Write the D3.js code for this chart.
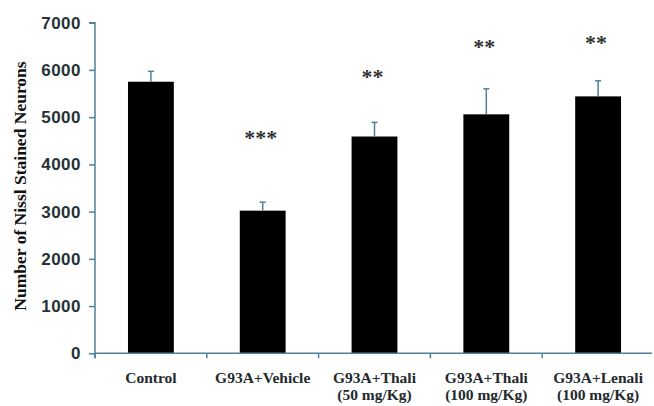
<!DOCTYPE html>
<meta charset="utf-8">
<style>
	body { margin: 0; background: #fff; }
	.ytick text { font: bold 17px "Liberation Sans", Arial, sans-serif; fill: #263236; letter-spacing: 0.5px; }
	.xlab { font: bold 15.5px "Liberation Serif", "Times New Roman", serif; fill: #1f2a2e; text-anchor: middle; }
	.ytitle { font: bold 17.5px "Liberation Serif", "Times New Roman", serif; fill: #111; text-anchor: middle; }
	.sig { font: bold 22px "Liberation Serif", serif; fill: #333; text-anchor: middle; }
</style>
<body>
<script src="https://d3js.org/d3.v7.min.js"></script>
<script>

	var groups = ["Control", "G93A+Vehicle", "G93A+Thali 50", "G93A+Thali 100", "G93A+Lenali 100"];
	var groupLines = [["Control"], ["G93A+Vehicle"], ["G93A+Thali", "(50 mg/Kg)"], ["G93A+Thali", "(100 mg/Kg)"], ["G93A+Lenali", "(100 mg/Kg)"]];
	var means = [5750, 3020, 4590, 5060, 5440];
	var sems = [220, 180, 300, 540, 330];
	var stars = ["", "***", "**", "**", "**"];
	var starLevel = [0, 4670, 5950, 6590, 6680];
	var yTicks = [0, 1000, 2000, 3000, 4000, 5000, 6000, 7000];

	var width = 654,
		height = 406,
		axisColor = "#4f8198";

	var x = d3.scaleBand()
		.domain(groups)
		.range([95, 654])
		.padding(0);

	var y = d3.scaleLinear()
		.domain([0, 7000])
		.range([353.3, 22.7]);

	var barW = x.bandwidth() * 0.41;

	var svg = d3.select("body").append("svg")
		.attr("width", width)
		.attr("height", height);

	// y axis
	var yAxis = svg.append("g")
		.attr("class", "ytick")
		.attr("transform", "translate(95,0)")
		.call(d3.axisLeft(y).tickValues(yTicks).tickFormat(d3.format("d")).tickSize(6).tickPadding(8));
	yAxis.selectAll("path, line").attr("stroke", axisColor).attr("stroke-width", 1.5);
	yAxis.select(".domain").attr("d", "M-6," + y(7000) + "H0V" + (y(0) + 5));

	// bars
	svg.selectAll(".bar")
		.data(means)
		.enter().append("rect")
		.attr("class", "bar")
		.attr("x", function(d, i) { return x(groups[i]) + (x.bandwidth() - barW) / 2; })
		.attr("y", function(d) { return y(d); })
		.attr("width", barW)
		.attr("height", function(d) { return y(0) - y(d); })
		.attr("fill", "#000");

	// error bars
	var err = svg.selectAll(".err")
		.data(means)
		.enter().append("g")
		.attr("class", "err")
		.attr("stroke", axisColor)
		.attr("stroke-width", 1.5);
	err.append("line")
		.attr("x1", function(d, i) { return x(groups[i]) + x.bandwidth() / 2; })
		.attr("x2", function(d, i) { return x(groups[i]) + x.bandwidth() / 2; })
		.attr("y1", function(d) { return y(d); })
		.attr("y2", function(d, i) { return y(d + sems[i]); });
	err.append("line")
		.attr("x1", function(d, i) { return x(groups[i]) + x.bandwidth() / 2 - 3; })
		.attr("x2", function(d, i) { return x(groups[i]) + x.bandwidth() / 2 + 3; })
		.attr("y1", function(d, i) { return y(d + sems[i]); })
		.attr("y2", function(d, i) { return y(d + sems[i]); });

	// x axis
	var xAxis = svg.append("g").attr("stroke", axisColor).attr("stroke-width", 1.5);
	xAxis.append("line")
		.attr("x1", 95).attr("x2", 652)
		.attr("y1", y(0)).attr("y2", y(0));
	xAxis.selectAll(".xt")
		.data(groups)
		.enter().append("line")
		.attr("x1", function(d) { return x(d); })
		.attr("x2", function(d) { return x(d); })
		.attr("y1", y(0))
		.attr("y2", y(0) + 5);

	// category labels
	var lab = svg.selectAll(".xlab")
		.data(groupLines)
		.enter().append("text")
		.attr("class", "xlab")
		.attr("x", function(d, i) { return x(groups[i]) + x.bandwidth() / 2; })
		.attr("y", 383);
	lab.selectAll("tspan")
		.data(function(d) { return d; })
		.enter().append("tspan")
		.attr("x", function() { return d3.select(this.parentNode).attr("x"); })
		.attr("dy", function(d, i) { return i ? 17 : 0; })
		.text(function(d) { return d; });

	// significance stars
	svg.selectAll(".sig")
		.data(stars)
		.enter().append("text")
		.attr("class", "sig")
		.attr("x", function(d, i) { return x(groups[i]) + x.bandwidth() / 2 - 2; })
		.attr("y", function(d, i) { return y(starLevel[i]) + 12; })
		.text(function(d) { return d; });

	// y title
	svg.append("text")
		.attr("class", "ytitle")
		.attr("transform", "translate(26,186) rotate(-90)")
		.text("Number of Nissl Stained Neurons");
</script>
